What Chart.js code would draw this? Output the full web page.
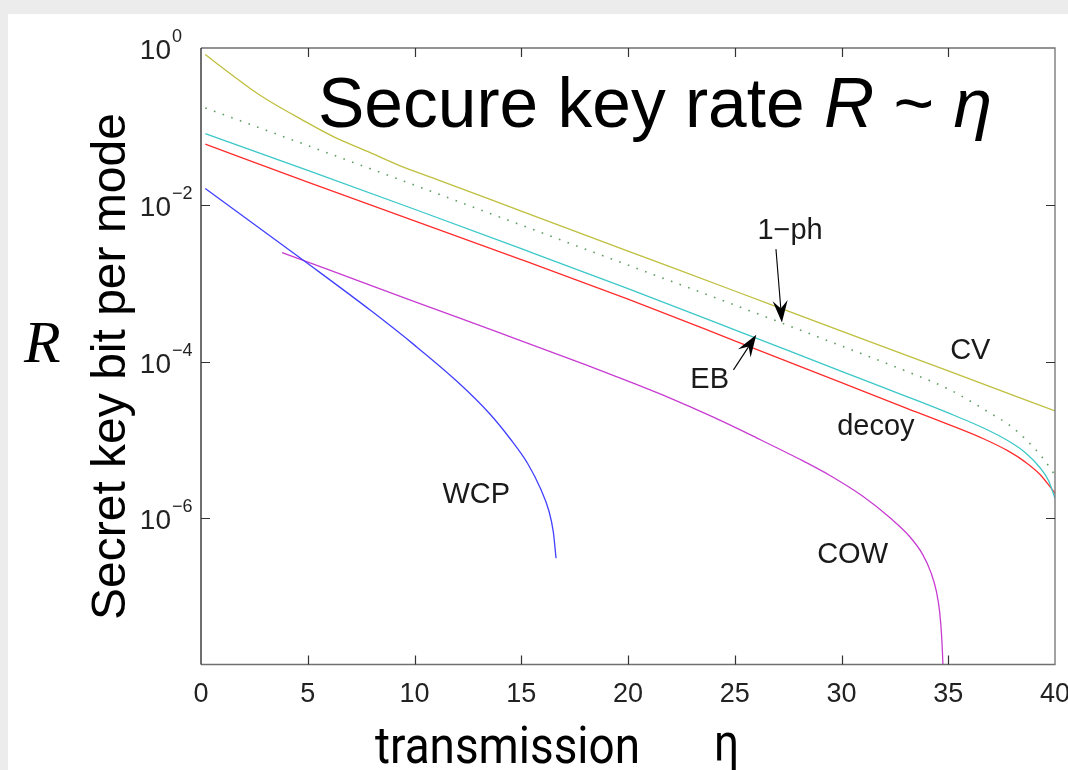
<!DOCTYPE html>
<html>
<head>
<meta charset="utf-8">
<title>Secure key rate</title>
<script src="https://cdn.jsdelivr.net/npm/chart.js@4/dist/chart.umd.min.js"></script>
<style>
  html, body { margin: 0; padding: 0; background: #ececec; overflow: hidden; }
  #panel { position: absolute; left: 8px; top: 14px; width: 1060px; height: 756px; background: #fff; }
  #chart { position: absolute; left: 0; top: 0; }
</style>
</head>
<body>
<div id="panel"></div>
<canvas id="chart" width="1068" height="770"></canvas>
<script>
'use strict';

// transmission (x) and key rate (y), one pair of arrays per curve
const etaCV = [0.2, 0.8, 1.5, 2.3, 3.1, 4.7, 6.2, 7.8, 9.3, 11, 15, 20, 25, 30, 35, 40];
const rateCV = [0.826, 0.617, 0.442, 0.305, 0.219, 0.123, 0.0741, 0.0479, 0.0316, 0.0213,
  8.32e-3, 2.57e-3, 7.94e-4, 2.45e-4, 7.59e-5, 2.34e-5];

const etaOnePh = [0.2, 5, 10, 15, 20, 25, 30, 33, 35, 36.8, 38, 38.8, 39.4, 40];
const rateOnePh = [0.172, 0.0569, 0.0178, 5.50e-3, 1.70e-3, 5.25e-4, 1.58e-4, 7.59e-5, 4.47e-5,
  2.34e-5, 1.45e-5, 9.12e-6, 6.03e-6, 3.55e-6];

const etaEB = [0.2, 5, 10, 15, 20, 25, 30, 33, 35, 36.7, 37.8, 38.6, 39.3, 39.7, 40];
const rateEB = [0.0809, 0.0275, 8.77e-3, 2.75e-3, 8.51e-4, 2.54e-4, 7.50e-5, 3.63e-5, 2.21e-5,
  1.40e-5, 9.77e-6, 6.92e-6, 4.42e-6, 3.02e-6, 1.80e-6];

const etaDecoy = [0.2, 5, 10, 15, 20, 25, 30, 33, 35, 36.7, 37.8, 38.6, 39.3, 40];
const rateDecoy = [0.0592, 0.0195, 6.22e-3, 2.0e-3, 6.25e-4, 1.84e-4, 5.37e-5, 2.57e-5, 1.58e-5,
  1.02e-5, 7.24e-6, 5.25e-6, 3.63e-6, 2.09e-6];

const etaWCP = [0.2, 5, 8, 10, 12, 13.5, 14.5, 15.3, 15.9, 16.3, 16.5, 16.63];
const rateWCP = [0.0161, 1.78e-3, 4.37e-4, 1.62e-4, 5.56e-5, 2.19e-5, 1.02e-5, 5.01e-6, 2.40e-6,
  1.23e-6, 6.76e-7, 3.09e-7];

const etaCOW = [3.8, 6, 10, 14, 18, 20, 22, 24, 26, 28, 29.5, 31, 32.3, 33.2, 33.8, 34.2, 34.45,
  34.6, 34.7, 34.8];
const rateCOW = [2.45e-3, 1.48e-3, 5.82e-4, 2.32e-4, 9.12e-5, 5.62e-5, 3.39e-5, 1.95e-5, 1.07e-5,
  5.75e-6, 3.47e-6, 1.91e-6, 1.0e-6, 5.82e-7, 3.47e-7, 2.0e-7, 1.15e-7, 6.31e-8, 2.82e-8, 6.31e-9];

// axes
const xTicks = [0, 5, 10, 15, 20, 25, 30, 35, 40];
const yTicks = [1, 1e-2, 1e-4, 1e-6];
const yTickExponents = ['0', '\u22122', '\u22124', '\u22126'];
const yMin = 1.365e-8;
const yMax = 1;

// curve labels and arrows, placed in data coordinates
const notes = [
  { text: 'WCP', eta: 11.31, r: 1.567e-6 },
  { text: 'COW', eta: 28.86, r: 2.685e-7 },
  { text: 'EB', eta: 22.92, r: 4.61e-5 },
  { text: 'decoy', eta: 29.80, r: 1.159e-5 },
  { text: '1\u2212ph', eta: 26.06, r: 3.69e-3 },
  { text: 'CV', eta: 35.09, r: 1.081e-4 }
];
const arrows = [
  { from: [26.93, 2.72e-3], to: [27.21, 3.15e-4] },
  { from: [24.94, 7.83e-5], to: [26.01, 2.19e-4] }
];

const pairs = (xs, ys) => xs.map((x, i) => ({ x: x, y: ys[i] }));

function curve(label, xs, ys, color, dash) {
  return {
    label: label,
    data: pairs(xs, ys),
    borderColor: color,
    backgroundColor: color,
    borderWidth: dash ? 1.6 : 1.3,
    borderDash: dash || [],
    pointRadius: 0,
    fill: false,
    cubicInterpolationMode: 'monotone'
  };
}

function drawArrow(ctx, x0, y0, x1, y1) {
  const ang = Math.atan2(y1 - y0, x1 - x0);
  const len = 22, half = 7.5, notch = 14;
  ctx.beginPath();
  ctx.moveTo(x0, y0);
  ctx.lineTo(x1 - Math.cos(ang) * notch, y1 - Math.sin(ang) * notch);
  ctx.stroke();
  const bx = x1 - Math.cos(ang) * len, by = y1 - Math.sin(ang) * len;
  const nx = -Math.sin(ang), ny = Math.cos(ang);
  ctx.beginPath();
  ctx.moveTo(x1, y1);
  ctx.lineTo(bx + nx * half, by + ny * half);
  ctx.lineTo(x1 - Math.cos(ang) * notch, y1 - Math.sin(ang) * notch);
  ctx.lineTo(bx - nx * half, by - ny * half);
  ctx.closePath();
  ctx.fill();
}

const decorations = {
  id: 'decorations',
  afterDraw(chart) {
    const ctx = chart.ctx;
    const a = chart.chartArea;
    const xs = chart.scales.x, ys = chart.scales.y;
    ctx.save();

    // box
    ctx.lineWidth = 1.3;
    ctx.strokeStyle = '#707070';
    ctx.beginPath();
    ctx.moveTo(a.left, a.top); ctx.lineTo(a.right, a.top);
    ctx.lineTo(a.right, a.bottom); ctx.lineTo(a.left, a.bottom);
    ctx.stroke();
    ctx.strokeStyle = '#222';
    ctx.beginPath();
    ctx.moveTo(a.left, a.top); ctx.lineTo(a.left, a.bottom);
    ctx.stroke();

    // inward ticks
    ctx.strokeStyle = '#333';
    ctx.lineWidth = 1.2;
    ctx.beginPath();
    xTicks.slice(1, -1).forEach(v => {
      const px = Math.round(xs.getPixelForValue(v)) + 0.5;
      ctx.moveTo(px, a.bottom); ctx.lineTo(px, a.bottom - 9);
      ctx.moveTo(px, a.top); ctx.lineTo(px, a.top + 9);
    });
    yTicks.slice(1).forEach(v => {
      const py = Math.round(ys.getPixelForValue(v)) + 0.5;
      ctx.moveTo(a.left, py); ctx.lineTo(a.left + 9, py);
      ctx.moveTo(a.right, py); ctx.lineTo(a.right - 9, py);
    });
    ctx.stroke();

    // y tick labels 10^n
    ctx.fillStyle = '#222';
    yTicks.forEach((v, i) => {
      const py = ys.getPixelForValue(v);
      ctx.font = '28px "Liberation Sans", Arial, sans-serif';
      ctx.textAlign = 'right';
      ctx.textBaseline = 'alphabetic';
      ctx.fillText('10', a.left - 30, py + 11);
      ctx.font = '18px "Liberation Sans", Arial, sans-serif';
      ctx.textAlign = 'left';
      ctx.fillText(yTickExponents[i], a.left - 29, py - 6);
    });

    // curve labels
    ctx.font = '29px "Liberation Sans", Arial, sans-serif';
    ctx.textAlign = 'left';
    ctx.textBaseline = 'alphabetic';
    ctx.fillStyle = '#1a1a1a';
    notes.forEach(n => {
      ctx.fillText(n.text, xs.getPixelForValue(n.eta), ys.getPixelForValue(n.r));
    });

    // arrows
    ctx.strokeStyle = '#000';
    ctx.fillStyle = '#000';
    ctx.lineWidth = 1.1;
    arrows.forEach(ar => {
      drawArrow(ctx,
        xs.getPixelForValue(ar.from[0]), ys.getPixelForValue(ar.from[1]),
        xs.getPixelForValue(ar.to[0]), ys.getPixelForValue(ar.to[1]));
    });

    // headline
    ctx.fillStyle = '#000';
    let tx = 318;
    const ty = 127;
    const parts = [
      ['Secure key rate ', ''], ['R', 'italic '], [' ~ ', ''], ['\u03b7', 'italic ']
    ];
    parts.forEach(p => {
      ctx.font = p[1] + '69.5px "Liberation Sans", Arial, sans-serif';
      ctx.fillText(p[0], tx, ty);
      tx += ctx.measureText(p[0]).width;
    });

    // y axis title
    ctx.save();
    ctx.translate(125, 366.5);
    ctx.rotate(-Math.PI / 2);
    ctx.textAlign = 'center';
    ctx.font = '48px "Liberation Sans", Arial, sans-serif';
    ctx.fillText('Secret key bit per mode', 0, 0);
    ctx.restore();

    // big R
    ctx.font = 'italic 60px "Liberation Serif", serif';
    ctx.textAlign = 'left';
    ctx.fillText('R', 24, 362);

    // x axis title (condensed look)
    ctx.font = '52px Roboto, "Liberation Sans", sans-serif';
    const w = ctx.measureText('transmission').width;
    ctx.save();
    ctx.translate(375, 763);
    ctx.scale(265 / w, 1);
    ctx.fillText('transmission', 0, 0);
    ctx.restore();
    ctx.save();
    ctx.translate(714, 760);
    ctx.scale(0.85, 1);
    ctx.fillText('\u03b7', 0, 0);
    ctx.restore();

    ctx.restore();
  }
};

const canvasElem = document.getElementById('chart');

new Chart(canvasElem.getContext('2d'), {
  type: 'line',
  data: {
    datasets: [
      curve('CV', etaCV, rateCV, 'rgb(191,191,64)'),
      curve('1-ph', etaOnePh, rateOnePh, 'rgba(70,140,70,0.85)', [1.6, 7.6]),
      curve('EB', etaEB, rateEB, 'rgb(60,200,200)'),
      curve('decoy', etaDecoy, rateDecoy, 'rgb(255,45,45)'),
      curve('WCP', etaWCP, rateWCP, 'rgb(65,65,255)'),
      curve('COW', etaCOW, rateCOW, 'rgb(200,60,210)')
    ]
  },
  options: {
    responsive: false,
    animation: false,
    events: [],
    layout: { padding: { top: 48, right: 13, left: 0, bottom: 0 } },
    plugins: {
      legend: { display: false },
      tooltip: { enabled: false },
      title: { display: false }
    },
    scales: {
      x: {
        type: 'linear',
        min: 0,
        max: 40,
        grid: { display: false, drawTicks: false },
        border: { display: false },
        ticks: {
          stepSize: 5,
          maxRotation: 0,
          padding: 14,
          color: '#222',
          font: { family: '"Liberation Sans", Arial, sans-serif', size: 27 }
        },
        afterFit(scale) {
          scale.height = 105.5;
          scale.paddingLeft = 0;
          scale.paddingRight = 0;
        }
      },
      y: {
        type: 'logarithmic',
        min: yMin,
        max: yMax,
        grid: { display: false, drawTicks: false },
        border: { display: false },
        ticks: { display: false },
        afterBuildTicks(scale) {
          scale.ticks = yTicks.map(v => ({ value: v }));
        },
        afterFit(scale) {
          scale.width = 201;
        }
      }
    }
  },
  plugins: [decorations]
});
</script>
</body>
</html>
